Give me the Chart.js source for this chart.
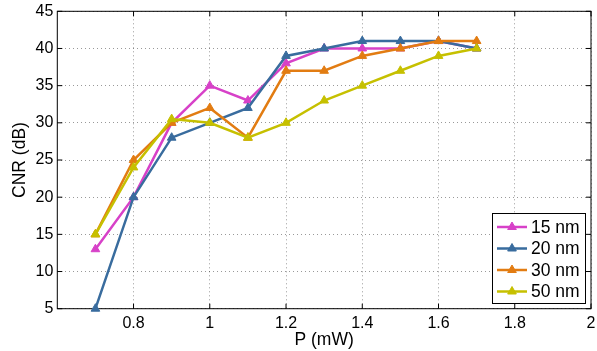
<!DOCTYPE html>
<html><head><meta charset="utf-8">
<script src="https://cdn.jsdelivr.net/npm/chart.js@4/dist/chart.umd.min.js"></script>
<style>html,body{margin:0;padding:0;background:#fff;overflow:hidden}</style>
</head><body>
<canvas id="c" width="597" height="351"></canvas>
<script>
const powers = [0.7, 0.8, 0.9, 1.0, 1.1, 1.2, 1.3, 1.4, 1.5, 1.6, 1.7];
const seriesLabels = ['15 nm', '20 nm', '30 nm', '50 nm'];
const cnr15 = [13, 20, 30, 35, 33, 38, 40, 40, 40, 41, 40];
const cnr20 = [5, 20, 28, 30, 32, 39, 40, 41, 41, 41, 40];
const cnr30 = [15, 25, 30, 32, 28, 37, 37, 39, 40, 41, 41];
const cnr50 = [15, 24, 30.5, 30, 28, 30, 33, 35, 37, 39, 40];
const xTicks = [0.8, 1, 1.2, 1.4, 1.6, 1.8, 2];
const yTicks = [5, 10, 15, 20, 25, 30, 35, 40, 45];
const seriesColors = ['#d741c8', '#396c9e', '#e27c12', '#c6c000'];

const allSeries = [cnr15, cnr20, cnr30, cnr50];
const FONT = "'Liberation Sans', Arial, Helvetica, sans-serif";
Chart.defaults.font.family = FONT;
Chart.defaults.font.size = 16;
Chart.defaults.color = '#000';

const datasets = allSeries.map((vals, i) => ({
  label: seriesLabels[i],
  data: powers.map((p, j) => ({x: p, y: vals[j]})),
  borderColor: seriesColors[i],
  backgroundColor: seriesColors[i],
  pointBackgroundColor: seriesColors[i],
  pointBorderColor: seriesColors[i],
  borderWidth: 2.5,
  pointStyle: 'triangle',
  pointRadius: 5,
  pointBorderWidth: 1,
  tension: 0,
  clip: false,
  order: 4 - i
}));

function tri(ctx, x, y, r) {
  ctx.beginPath();
  let rad = 0;
  ctx.moveTo(x + Math.sin(rad) * r, y - Math.cos(rad) * r);
  rad += 2 * Math.PI / 3;
  ctx.lineTo(x + Math.sin(rad) * r, y - Math.cos(rad) * r);
  rad += 2 * Math.PI / 3;
  ctx.lineTo(x + Math.sin(rad) * r, y - Math.cos(rad) * r);
  ctx.closePath();
}

const framePlugin = {
  id: 'frame',
  beforeDatasetsDraw(chart) {
    const {ctx, chartArea: a, scales} = chart;
    ctx.save();
    ctx.strokeStyle = '#000';
    ctx.lineWidth = 1;
    ctx.strokeRect(a.left, a.top, a.right - a.left, a.bottom - a.top);
    const L = 5;
    ctx.beginPath();
    xTicks.forEach(v => {
      const px = scales.x.getPixelForValue(v);
      ctx.moveTo(px, a.bottom); ctx.lineTo(px, a.bottom - L);
      ctx.moveTo(px, a.top); ctx.lineTo(px, a.top + L);
    });
    yTicks.forEach(v => {
      const py = scales.y.getPixelForValue(v);
      ctx.moveTo(a.left, py); ctx.lineTo(a.left + L, py);
      ctx.moveTo(a.right, py); ctx.lineTo(a.right - L, py);
    });
    ctx.stroke();
    ctx.restore();
  },
  afterDraw(chart) {
    const ctx = chart.ctx;
    const bx = 492, by = 213, bw = 93, bh = 90;
    ctx.save();
    ctx.fillStyle = '#fff';
    ctx.fillRect(bx, by, bw, bh);
    ctx.strokeStyle = '#000';
    ctx.lineWidth = 1;
    ctx.strokeRect(bx + 0.5, by + 0.5, bw, bh);
    ctx.font = '17.5px ' + FONT;
    ctx.textBaseline = 'middle';
    ctx.textAlign = 'left';
    chart.data.datasets.forEach((ds, i) => {
      const y = by + 14 + i * 21.5;
      ctx.strokeStyle = ds.borderColor;
      ctx.lineWidth = 2.5;
      ctx.beginPath(); ctx.moveTo(bx + 5, y); ctx.lineTo(bx + 35, y); ctx.stroke();
      ctx.fillStyle = ds.borderColor;
      ctx.lineWidth = 1;
      tri(ctx, bx + 20, y, 5);
      ctx.fill(); ctx.stroke();
      ctx.fillStyle = '#000';
      ctx.fillText(ds.label, bx + 39, y + 1);
    });
    ctx.restore();
  }
};

new Chart(document.getElementById('c'), {
  type: 'line',
  data: {datasets},
  plugins: [framePlugin],
  options: {
    responsive: false,
    animation: false,
    devicePixelRatio: 1,
    layout: {padding: {top: 11.3, right: 1.7, left: 0, bottom: 0}},
    plugins: {legend: {display: false}, tooltip: {enabled: false}},
    scales: {
      x: {
        type: 'linear', min: 0.6, max: 2,
        afterBuildTicks: s => { s.ticks = xTicks.map(v => ({value: v})); },
        afterFit: s => { s.height = 42.3; s.paddingLeft = 0; s.paddingRight = 0; },
        ticks: {padding: 5, maxRotation: 0, autoSkip: false,
          callback: v => String(+Number(v).toFixed(1))},
        grid: {color: 'rgba(0,0,0,0.4)', drawTicks: false, lineWidth: 1},
        border: {display: false, dash: [1, 3]},
        title: {display: true, text: 'P (mW)', font: {size: 17.5}, padding: {top: 0, bottom: 0}}
      },
      y: {
        type: 'linear', min: 5, max: 45,
        afterBuildTicks: s => { s.ticks = yTicks.map(v => ({value: v})); },
        afterFit: s => { s.width = 57.3; s.paddingTop = 0; s.paddingBottom = 0; },
        ticks: {padding: 4, autoSkip: false},
        grid: {color: 'rgba(0,0,0,0.4)', drawTicks: false, lineWidth: 1},
        border: {display: false, dash: [1, 3]},
        title: {display: true, text: 'CNR (dB)', font: {size: 17.5}, padding: {top: 10, bottom: 0}}
      }
    }
  }
});
</script>
</body></html>
